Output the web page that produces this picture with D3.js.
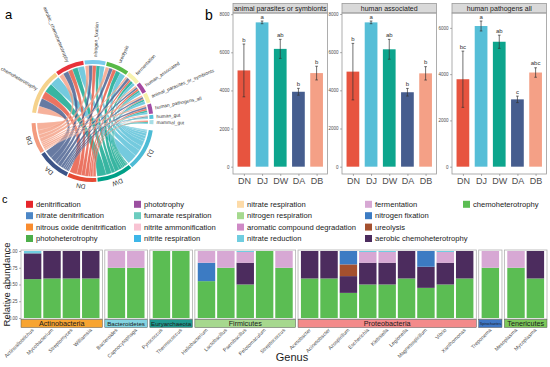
<!DOCTYPE html>
<html>
<head>
<meta charset="utf-8">
<script src="https://cdn.jsdelivr.net/npm/d3@7"></script>
<style>
  body { margin: 0; background: #fff; }
  svg { font-family: "Liberation Sans", Arial, sans-serif; }
</style>
</head>
<body>
<svg id="fig" width="550" height="367"></svg>
<script>
// ---------- panel a : chord of functions vs sites ----------
const funcNames = ["chemoheterotrophy", "aerobic_chemoheterotrophy", "nitrogen_fixation", "ureolysis",
  "fermentation", "human_associated", "animal_parasites_or_symbionts", "human_pathogens_all",
  "human_gut", "mammal_gut"];
const funcColors = ["#F5D28C", "#E8333A", "#7ACBEA", "#58B947", "#F7F2AE", "#A6479F",
  "#F6F0A8", "#A14CA5", "#55C3DD", "#A6DDE5"];
const sites = ["DJ", "DW", "DN", "DA", "DB"];
const siteColors = ["#4DBBD5", "#00A087", "#E64B35", "#3C5488", "#F39B7F"];
// rows = functions, columns = DJ, DW, DN, DA, DB
const flows = [
  [11, 10, 8, 9, 8],
  [7, 6, 5, 6, 5],
  [5, 4, 4, 4, 4],
  [6, 5, 4, 4, 4],
  [3, 3, 2, 3, 2],
  [3, 2, 2, 2, 2],
  [3, 2, 1, 2, 2],
  [2, 2, 2, 2, 2],
  [1, 1, 0, 1, 1],
  [1, 1, 1, 0, 1]
];

// ---------- panel b : bars ----------
const groupsB = ["DN", "DJ", "DW", "DA", "DB"];
const barColors = ["#E64B35", "#4DBBD5", "#00A087", "#3C5488", "#F39B7F"];
const facetTitles = ["animal parasites or symbionts", "human associated", "human pathogens all"];
const meanAnimal = [5050, 7570, 6180, 3930, 4910];
const seAnimal = [1385, 70, 500, 180, 360];
const letAnimal = ["b", "a", "ab", "b", "b"];
const meanHuman = [4980, 7560, 6150, 3900, 4890];
const seHuman = [1480, 70, 520, 200, 350];
const letHuman = ["b", "a", "ab", "b", "b"];
const meanPath = [3780, 6080, 5400, 2910, 4070];
const sePath = [1215, 215, 285, 140, 205];
const letPath = ["bc", "a", "ab", "c", "abc"];
const yTicksB = [[0, 2000, 4000, 6000, 8000], [0, 2000, 4000, 6000, 8000], [0, 2000, 4000, 6000]];

// ---------- panel c : stacked relative abundance ----------
const legendNames = ["denitrification", "nitrate denitrification", "nitrous oxide denitrification", "photoheterotrophy",
  "phototrophy", "fumarate respiration", "nitrite ammonification", "nitrite respiration",
  "nitrate respiration", "nitrogen respiration", "aromatic compound degradation", "nitrate reduction",
  "fermentation", "nitrogen fixation", "ureolysis", "aerobic chemoheterotrophy",
  "chemoheterotrophy"];
const legendColors = ["#E6262B", "#4C86C6", "#F98C2F", "#4DAF4A",
  "#9B4FA0", "#6CCCBF", "#F8C3D3", "#3DB6E8",
  "#FDDBA8", "#A5D98E", "#CF8AC6", "#70CDE0",
  "#D7A8D4", "#3C7BC3", "#A4502E", "#4C2C5E",
  "#5BBD53"];
const phyla = ["Actinobacteria", "Bacteroidetes", "Euryarchaeota", "Firmicutes", "Proteobacteria", "Spirochaetes", "Tenericutes"];
const phylumColors = ["#F7A431", "#83D3E1", "#1F9A8F", "#A6D88E", "#F38A8A", "#3E76C4", "#7CC85A"];
const generaByPhylum = [
  ["Actinoalloteichus", "Mycobacterium", "Streptomyces", "Williamsia"],
  ["Bacteroides", "Capnocytophaga"],
  ["Pyrococcus", "Thermococcus"],
  ["Heliobacterium", "Lactobacillus", "Paenibacillus", "Pelotomaculum", "Streptococcus"],
  ["Acetobacter", "Acinetobacter", "Azospirillum", "Escherichia", "Klebsiella", "Legionella", "Magnetospirillum", "Vibrio", "Xanthomonas"],
  ["Treponema"],
  ["Mesoplasma", "Mycoplasma"]
];
const stackKeys = ["chemoheterotrophy", "aerobic chemoheterotrophy", "ureolysis", "nitrogen fixation", "fermentation", "nitrate reduction"];
const chemoVals   = [0.58, 0.59, 0.59, 0.59, 0.75, 0.75, 1, 1, 0.55, 0.75, 0.5, 1, 0.75, 0.59, 0.59, 0.375, 0.5, 0.5, 0.59, 0.45, 0.5, 0.59, 0.75, 0.75, 0.59];
const aerobicVals = [0.385, 0.41, 0.41, 0.41, 0, 0, 0, 0, 0, 0, 0.325, 0, 0, 0.41, 0.41, 0.25, 0.325, 0.325, 0.41, 0.315, 0.325, 0.41, 0, 0, 0.41];
const ureoVals    = [0, 0, 0, 0, 0, 0, 0, 0, 0, 0, 0, 0, 0, 0, 0, 0.175, 0, 0, 0, 0, 0, 0, 0, 0, 0];
const nfixVals    = [0, 0, 0, 0, 0, 0, 0, 0, 0.275, 0, 0, 0, 0, 0, 0, 0.2, 0, 0, 0, 0.235, 0, 0, 0, 0, 0];
const fermVals    = [0, 0, 0, 0, 0.25, 0.25, 0, 0, 0.175, 0.25, 0.16, 0, 0.25, 0, 0, 0, 0.16, 0.16, 0, 0, 0.16, 0, 0.25, 0.25, 0];
const nredVals    = [0.035, 0, 0, 0, 0, 0, 0, 0, 0, 0, 0.015, 0, 0, 0, 0, 0, 0.015, 0.015, 0, 0, 0.015, 0, 0, 0, 0];
const yTicksC = [0, 0.25, 0.5, 0.75, 1];

const svg = d3.select("#fig");
const greyText = "#4D4D4D";

// ================= panel a =================
svg.append("text").attr("x", 5).attr("y", 19).attr("font-size", 13).text("a");

const ga = svg.append("g").attr("transform", "translate(92.5,121)");
const rOut = 61, rIn = 57, rRib = 55.5;
const sectors = funcNames.map((n, i) => ({name: n, color: funcColors[i], value: d3.sum(flows[i]), kind: "f"}))
  .concat(sites.map((n, j) => ({name: n, color: siteColors[j], value: d3.sum(flows, r => r[j]), kind: "s"})));
const smallGap = 1.2, gapSites = 6, gapFuncs = 10;
const degPer = (360 - 13 * smallGap - gapSites - gapFuncs) / d3.sum(sectors, d => d.value);
let ang = -82;
sectors.forEach((s, i) => {
  s.start = ang;
  s.end = ang + s.value * degPer;
  ang = s.end + (i === funcNames.length - 1 ? gapSites : smallGap);
});
const rad = d => d * Math.PI / 180;

// link positions inside each sector
const fCursor = sectors.slice(0, 10).map(s => s.start);
const sCursor = sectors.slice(10).map(s => s.start);
const links = [];
for (let i = 0; i < funcNames.length; i++) {
  for (let j = sites.length - 1; j >= 0; j--) {
    const v = flows[i][j];
    if (!v) continue;
    const a0 = fCursor[i]; fCursor[i] += v * degPer;
    links.push({i, j, src: {startAngle: rad(a0), endAngle: rad(fCursor[i])}});
  }
}
for (let j = 0; j < sites.length; j++) {
  for (let i = funcNames.length - 1; i >= 0; i--) {
    const l = links.find(d => d.i === i && d.j === j);
    if (!l) continue;
    const a0 = sCursor[j]; sCursor[j] += flows[i][j] * degPer;
    l.tgt = {startAngle: rad(a0), endAngle: rad(sCursor[j])};
  }
}
const ribbon = d3.ribbon().radius(rRib);
ga.selectAll("path.rib").data(links).join("path")
  .attr("class", "rib")
  .attr("d", d => ribbon({source: d.src, target: d.tgt}))
  .attr("fill", d => siteColors[d.j])
  .attr("fill-opacity", 0.78)
  .attr("stroke", "#fff").attr("stroke-width", 0.15);

const arc = d3.arc().innerRadius(rIn).outerRadius(rOut);
ga.selectAll("path.sec").data(sectors).join("path")
  .attr("class", "sec")
  .attr("d", d => arc({startAngle: rad(d.start), endAngle: rad(d.end)}))
  .attr("fill", d => d.color);

// labels
sectors.forEach(s => {
  const mid = (s.start + s.end) / 2;
  const m = ((mid % 360) + 360) % 360;
  if (s.kind === "f") {
    const r = 64;
    const x = r * Math.sin(rad(m)), y = -r * Math.cos(rad(m));
    const left = m > 180;
    ga.append("text")
      .attr("transform", `translate(${x},${y}) rotate(${left ? m + 90 : m - 90})`)
      .attr("text-anchor", left ? "end" : "start")
      .attr("dy", "0.35em")
      .attr("font-size", 4.8).attr("fill", "#333")
      .text(s.name);
  } else {
    ga.append("text")
      .attr("transform", `rotate(${m}) translate(0,-64)`)
      .attr("text-anchor", "middle")
      .attr("font-size", 6.5).attr("fill", "#333")
      .text(s.name);
  }
});

// ================= panel b =================
svg.append("text").attr("x", 205).attr("y", 20).attr("font-size", 14).text("b");
const panelsB = [
  {title: facetTitles[0], mean: meanAnimal, se: seAnimal, lets: letAnimal, ticks: yTicksB[0], x0: 233},
  {title: facetTitles[1], mean: meanHuman, se: seHuman, lets: letHuman, ticks: yTicksB[1], x0: 342},
  {title: facetTitles[2], mean: meanPath, se: sePath, lets: letPath, ticks: yTicksB[2], x0: 452}
];
const bW = 94.5, bTop = 13, bBot = 174, stripTop = 3.5;
panelsB.forEach(p => {
  const g = svg.append("g");
  const top = d3.max(p.mean, (m, k) => m + p.se[k]) * 1.005;
  const y = d3.scaleLinear().domain([-0.05 * top, 1.05 * top]).range([bBot, bTop]);
  const x = d3.scalePoint().domain(groupsB).range([p.x0, p.x0 + bW]).padding(0.6);
  const bw = x.step() * 0.7;

  g.append("rect").attr("x", p.x0).attr("y", stripTop).attr("width", bW).attr("height", bTop - stripTop)
    .attr("fill", "#D9D9D9").attr("stroke", "#999").attr("stroke-width", 0.8);
  g.append("text").attr("x", p.x0 + bW / 2).attr("y", bTop - 2.2).attr("text-anchor", "middle")
    .attr("font-size", 7).attr("fill", "#1A1A1A").text(p.title);

  g.selectAll("rect.bar").data(groupsB).join("rect").attr("class", "bar")
    .attr("x", d => x(d) - bw / 2).attr("width", bw)
    .attr("y", (d, k) => y(p.mean[k])).attr("height", (d, k) => y(0) - y(p.mean[k]))
    .attr("fill", (d, k) => barColors[k]).attr("fill-opacity", 0.95);

  groupsB.forEach((d, k) => {
    const cx = x(d), hi = y(p.mean[k] + p.se[k]), lo = y(p.mean[k] - p.se[k]);
    g.append("path").attr("d", `M${cx},${hi}V${lo}M${cx - 1.3},${hi}H${cx + 1.3}M${cx - 1.3},${lo}H${cx + 1.3}`)
      .attr("stroke", "#333").attr("stroke-width", 0.7).attr("fill", "none");
    g.append("text").attr("x", cx).attr("y", hi - 2.5).attr("text-anchor", "middle")
      .attr("font-size", 6).attr("fill", "#333").text(p.lets[k]);
  });

  g.append("rect").attr("x", p.x0).attr("y", bTop).attr("width", bW).attr("height", bBot - bTop)
    .attr("fill", "none").attr("stroke", "#999").attr("stroke-width", 0.8);

  const yAxis = g.append("g").attr("transform", `translate(${p.x0},0)`)
    .call(d3.axisLeft(y).tickValues(p.ticks).tickSize(2).tickPadding(1.5).tickFormat(d3.format("d")));
  yAxis.select(".domain").remove();
  yAxis.selectAll("line").attr("stroke", "#666").attr("stroke-width", 0.5);
  yAxis.selectAll("text").attr("font-size", 4.5).attr("fill", greyText).attr("font-family", null);

  const xAxis = g.append("g").attr("transform", `translate(0,${bBot})`)
    .call(d3.axisBottom(x).tickSize(2).tickPadding(2));
  xAxis.select(".domain").remove();
  xAxis.selectAll("line").attr("stroke", "#666").attr("stroke-width", 0.5);
  xAxis.selectAll("text").attr("font-size", 9).attr("fill", greyText).attr("font-family", null);
});

// ================= panel c =================
svg.append("text").attr("x", 2).attr("y", 203).attr("font-size", 11).text("c");
const legCols = [26, 134, 237, 365, 463];
legendNames.forEach((n, k) => {
  const col = Math.floor(k / 4), row = k % 4;
  const yy = 204.3 + row * 11.4;
  svg.append("rect").attr("x", legCols[col]).attr("y", yy - 3.5).attr("width", 7).attr("height", 7)
    .attr("fill", legendColors[k]);
  svg.append("text").attr("x", legCols[col] + 10).attr("y", yy).attr("dy", "0.35em")
    .attr("font-size", 7.6).attr("fill", "#1A1A1A").text(n);
});

const colorOf = k => legendColors[legendNames.indexOf(k)];
const allGenera = generaByPhylum.flat();
const rows = allGenera.map((gname, k) => ({
  genus: gname,
  "chemoheterotrophy": chemoVals[k],
  "aerobic chemoheterotrophy": aerobicVals[k],
  "ureolysis": ureoVals[k],
  "nitrogen fixation": nfixVals[k],
  "fermentation": fermVals[k],
  "nitrate reduction": nredVals[k]
}));
const series = d3.stack().keys(stackKeys)(rows);

const cLeft = 21, cRight = 547, cGap = 2.4, cTop = 250, cBot = 319, cStrip = 8;
const unit = (cRight - cLeft - (phyla.length - 1) * cGap) / (allGenera.length + 0.2 * phyla.length);
const yC = d3.scaleLinear().domain([-0.015, 1.015]).range([cBot, cTop]);

let fx = cLeft;
generaByPhylum.forEach((gens, pi) => {
  const w = (gens.length + 0.2) * unit;
  const x = d3.scaleBand().domain(gens).range([fx, fx + w]).paddingInner(0.1).paddingOuter(0.15);
  const g = svg.append("g");
  series.forEach(s => {
    g.selectAll(null).data(s.filter(d => gens.includes(d.data.genus))).join("rect")
      .attr("x", d => x(d.data.genus)).attr("width", x.bandwidth())
      .attr("y", d => yC(d[1])).attr("height", d => yC(d[0]) - yC(d[1]))
      .attr("fill", colorOf(s.key));
  });
  g.append("rect").attr("x", fx).attr("y", cTop).attr("width", w).attr("height", cBot - cTop)
    .attr("fill", "none").attr("stroke", "#B0B0B0").attr("stroke-width", 0.8);
  // strip
  g.append("rect").attr("x", fx).attr("y", cBot + 0.5).attr("width", w).attr("height", cStrip)
    .attr("fill", phylumColors[pi]).attr("stroke", "#555").attr("stroke-width", 0.5);
  const fs = Math.min(7.2, w / (phyla[pi].length * 0.53));
  g.append("text").attr("x", fx + w / 2).attr("y", cBot + 0.5 + cStrip / 2).attr("dy", "0.35em")
    .attr("text-anchor", "middle").attr("font-size", fs).attr("fill", "#1A1A1A").text(phyla[pi]);
  // genus labels
  gens.forEach(gn => {
    const cx = x(gn) + x.bandwidth() / 2;
    g.append("text").attr("transform", `translate(${cx + 1.5},${cBot + cStrip + 3.5}) rotate(-45)`)
      .attr("text-anchor", "end").attr("font-size", 5.2).attr("fill", greyText).text(gn);
  });
  if (pi === 0) {
    const ax = g.append("g").attr("transform", `translate(${fx},0)`)
      .call(d3.axisLeft(yC).tickValues(yTicksC).tickSize(2).tickPadding(1.5).tickFormat(d3.format(".2f")));
    ax.select(".domain").remove();
    ax.selectAll("line").attr("stroke", "#666").attr("stroke-width", 0.5);
    ax.selectAll("text").attr("font-size", 4.5).attr("fill", greyText).attr("font-family", null);
  }
  fx += w + cGap;
});

svg.append("text").attr("transform", `translate(10,${(cTop + cBot) / 2}) rotate(-90)`)
  .attr("text-anchor", "middle").attr("font-size", 9.5).attr("fill", "#1A1A1A").text("Relative abundance");
svg.append("text").attr("x", 292).attr("y", 361).attr("text-anchor", "middle")
  .attr("font-size", 11).attr("fill", "#1A1A1A").text("Genus");
</script>
</body>
</html>
